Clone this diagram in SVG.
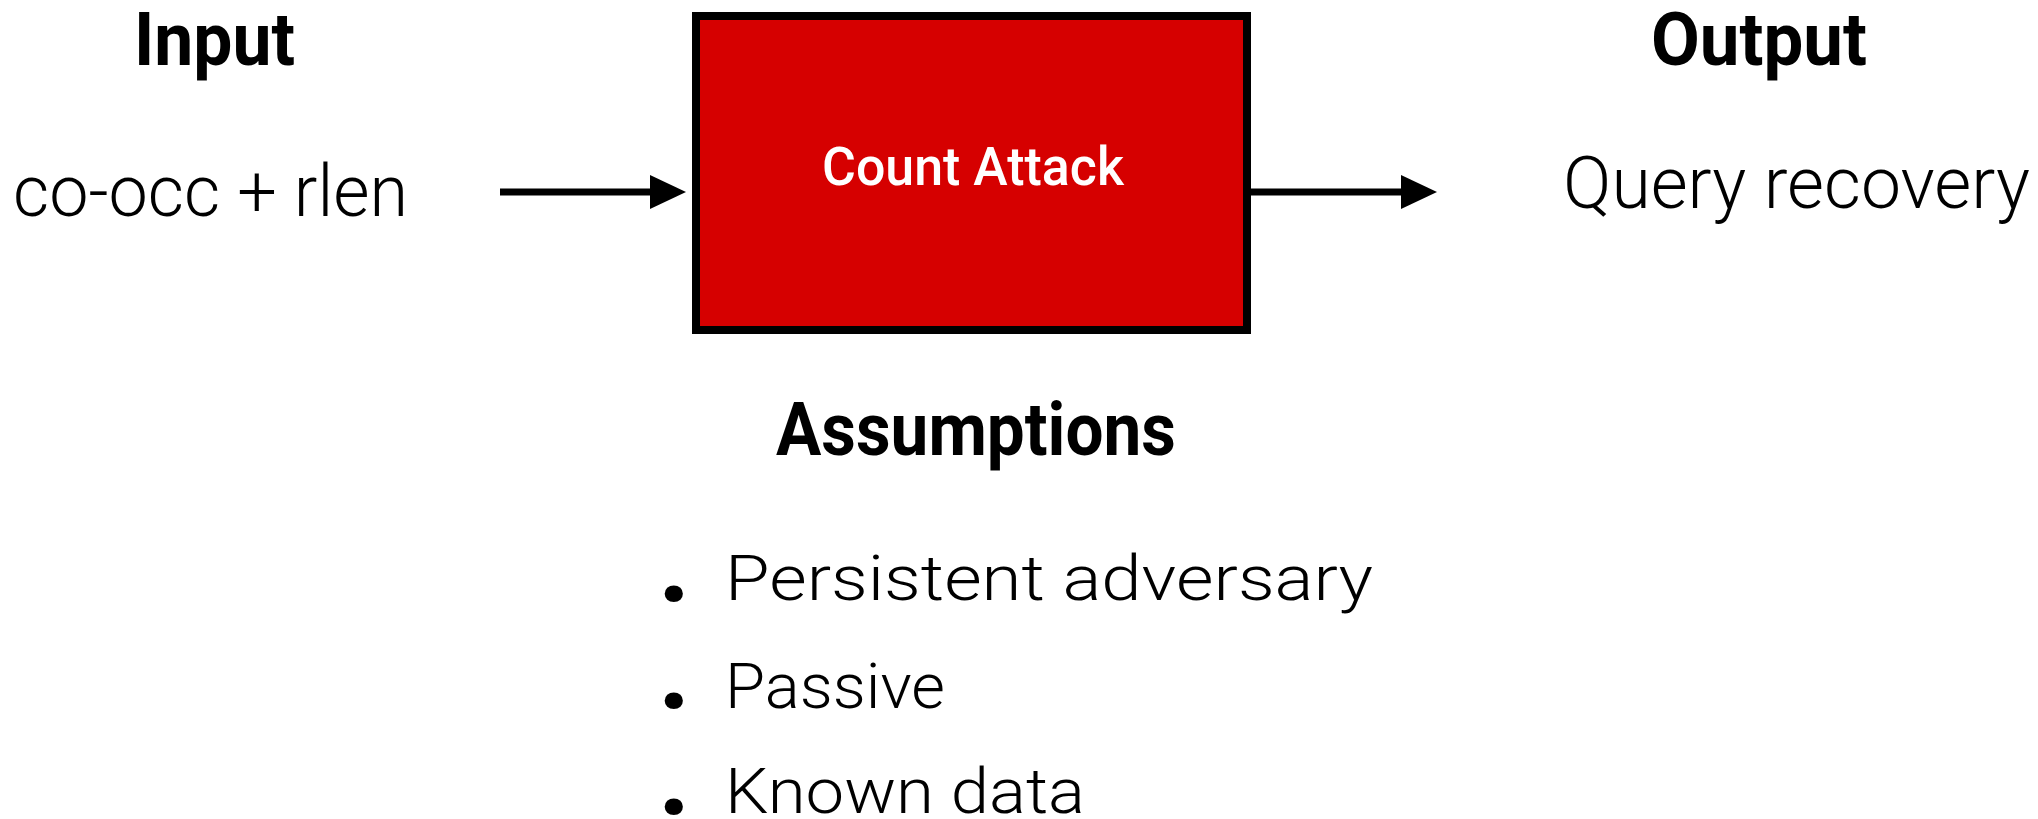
<svg xmlns="http://www.w3.org/2000/svg" width="2038" height="819" viewBox="0 0 2038 819">
  <style>
    .head { font-family: Roboto, "Liberation Sans", sans-serif; font-weight: 700; font-size: 74px; fill: #000; }
    .body { font-family: Roboto, "Liberation Sans", sans-serif; font-weight: 300; font-size: 72px; fill: #000; }
    .item { font-family: Roboto, "Liberation Sans", sans-serif; font-weight: 300; font-size: 63px; fill: #000; }
    .dot { font-family: Roboto, "Liberation Sans", sans-serif; font-weight: 900; font-size: 100px; fill: #000; }
    .box { fill: #d60000; stroke: #000; stroke-width: 8; }
    .boxlabel { font-family: Roboto, "Liberation Sans", sans-serif; font-weight: 500; font-size: 54px; fill: #fff; }
    .link { stroke: #000; stroke-width: 7; fill: none; }
    .tip { fill: #000; stroke: none; }
  </style>
  <rect width="2038" height="819" fill="#fff"/>

  <g id="input">
    <text class="head" x="134" y="65" textLength="161" lengthAdjust="spacingAndGlyphs">Input</text>
    <text class="body" x="13" y="216" textLength="395" lengthAdjust="spacingAndGlyphs">co-occ + rlen</text>
  </g>

  <g id="count-attack">
    <rect class="box" x="696" y="16" width="551" height="314"/>
    <text class="boxlabel" x="822" y="185" textLength="302" lengthAdjust="spacingAndGlyphs">Count Attack</text>
  </g>

  <g id="output">
    <text class="head" x="1651" y="65" textLength="216" lengthAdjust="spacingAndGlyphs">Output</text>
    <text class="body" x="1563" y="208" textLength="467" lengthAdjust="spacingAndGlyphs">Query recovery</text>
  </g>

  <g id="assumptions">
    <text class="head" x="776" y="455" textLength="400" lengthAdjust="spacingAndGlyphs">Assumptions</text>
    <text class="dot" x="659" y="601">.</text>
    <text class="item" x="725" y="600" textLength="648" lengthAdjust="spacingAndGlyphs">Persistent adversary</text>
    <text class="dot" x="659" y="708">.</text>
    <text class="item" x="725" y="708" textLength="220" lengthAdjust="spacingAndGlyphs">Passive</text>
    <text class="dot" x="659" y="814">.</text>
    <text class="item" x="725" y="813" textLength="360" lengthAdjust="spacingAndGlyphs">Known data</text>
  </g>

  <g id="connectors">
    <!-- input to attack box -->
    <line class="link" x1="500" y1="192" x2="652" y2="192"/>
    <path class="tip" d="M650,175 L686,192 L650,209 Z"/>
    <!-- attack box to output -->
    <line class="link" x1="1251" y1="192" x2="1403" y2="192"/>
    <path class="tip" d="M1401,175 L1437,192 L1401,209 Z"/>
  </g>
</svg>
